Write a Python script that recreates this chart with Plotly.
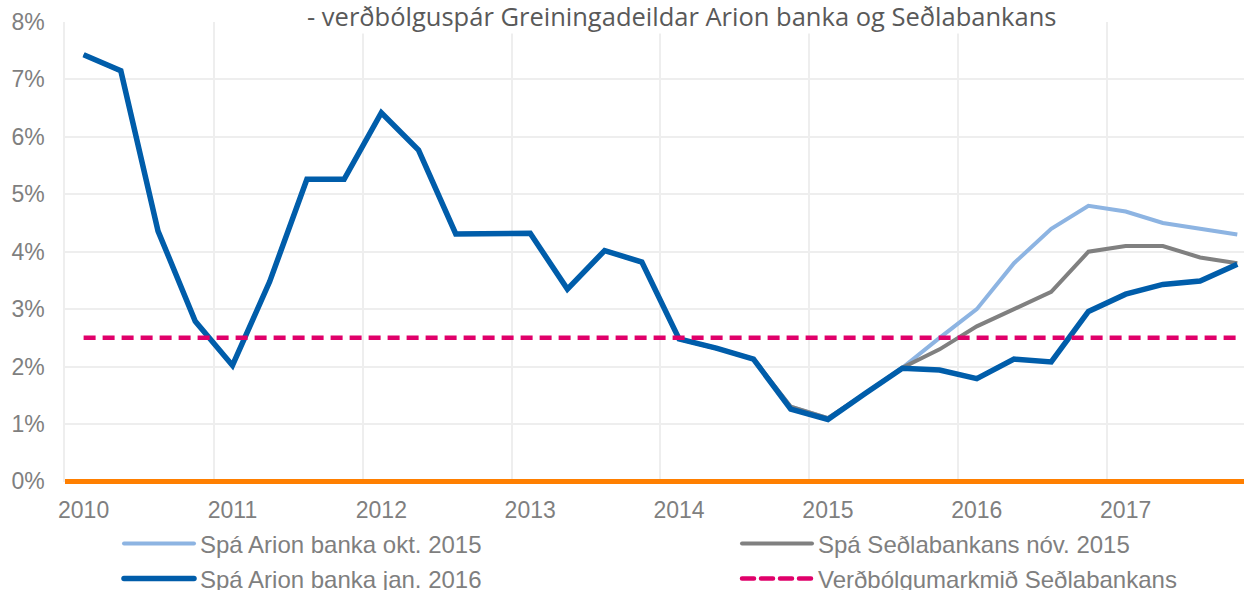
import plotly.graph_objects as go

# ---- data ----
years = ["2010", "2011", "2012", "2013", "2014", "2015", "2016", "2017"]
categories = [f"{y} Á{q}" for y in years for q in (1, 2, 3, 4)]
year_ticks = [f"{y} Á1" for y in years]

spa_arion_okt_2015 = [7.43, 7.15, 4.36, 2.79, 2.02, 3.48, 5.26, 5.26,
                      6.42, 5.77, 4.31, 4.31, 4.32, 3.35, 4.02, 3.82,
                      2.48, 2.32, 2.13, 1.30, 1.10, 1.53, 1.98, 2.50,
                      3.00, 3.80, 4.40, 4.80, 4.70, 4.50, 4.40, 4.30]
spa_sedlabankans_nov_2015 = [7.43, 7.15, 4.36, 2.79, 2.02, 3.48, 5.26, 5.26,
                             6.42, 5.77, 4.31, 4.31, 4.32, 3.35, 4.02, 3.82,
                             2.48, 2.32, 2.13, 1.30, 1.10, 1.53, 1.98, 2.30,
                             2.70, 3.00, 3.30, 4.00, 4.10, 4.10, 3.90, 3.80]
spa_arion_jan_2016 = [7.43, 7.15, 4.36, 2.79, 2.02, 3.48, 5.26, 5.26,
                      6.42, 5.77, 4.31, 4.31, 4.32, 3.35, 4.02, 3.82,
                      2.48, 2.32, 2.13, 1.26, 1.08, 1.53, 1.97, 1.94,
                      1.79, 2.13, 2.08, 2.96, 3.26, 3.43, 3.49, 3.78]
verdbolgumarkmid = [2.5, 2.5, 2.5, 2.5, 2.5, 2.5, 2.5, 2.5,
                    2.5, 2.5, 2.5, 2.5, 2.5, 2.5, 2.5, 2.5,
                    2.5, 2.5, 2.5, 2.5, 2.5, 2.5, 2.5, 2.5,
                    2.5, 2.5, 2.5, 2.5, 2.5, 2.5, 2.5, 2.5]

title_text = "- verðbólguspár Greiningadeildar Arion banka og Seðlabankans"
y_ticks = [0, 1, 2, 3, 4, 5, 6, 7, 8]
y_ticktext = ["0%", "1%", "2%", "3%", "4%", "5%", "6%", "7%", "8%"]

# ---- figure ----
W, H = 1244, 590
ML, MR, MT, MB = 65, 0, 22, 108
GRID = "#EEEEEE"
TXT = "#7F7F7F"
LEG_FONT = dict(family="Liberation Sans, Arial, sans-serif", size=24, color=TXT)

x_idx = list(range(len(categories)))
year_idx = [categories.index(t) for t in year_ticks]

fig = go.Figure()
series = [
    ("Spá Arion banka okt. 2015", spa_arion_okt_2015, dict(color="#8DB4E2", width=4), "legend"),
    ("Spá Seðlabankans nóv. 2015", spa_sedlabankans_nov_2015, dict(color="#808080", width=4), "legend2"),
    ("Spá Arion banka jan. 2016", spa_arion_jan_2016, dict(color="#005DAA", width=5.5), "legend3"),
    ("Verðbólgumarkmið Seðlabankans", verdbolgumarkmid, dict(color="#E0006A", width=4.5, dash="12px,7px"), "legend4"),
]
for name, vals, line, leg in series:
    fig.add_trace(go.Scatter(
        x=x_idx, y=vals, mode="lines", name=name, line=line,
        legend=leg, customdata=categories, hovertemplate="%{customdata}: %{y}%<extra></extra>",
    ))

legend_common = dict(font=LEG_FONT, bgcolor="rgba(0,0,0,0)", borderwidth=0,
                     xref="container", yref="container", xanchor="left", yanchor="middle")
col1, col2 = 160 / W, 778 / W
row1, row2 = 1 - 544 / H, 1 - 579 / H

fig.update_layout(
    width=W, height=H,
    margin=dict(l=ML, r=MR, t=MT, b=MB, autoexpand=False),
    paper_bgcolor="white", plot_bgcolor="white",
    showlegend=True,
    legend=dict(x=col1, y=row1, **legend_common),
    legend2=dict(x=col2, y=row1, **legend_common),
    legend3=dict(x=col1, y=row2, **legend_common),
    legend4=dict(x=col2, y=row2, **legend_common),
    xaxis=dict(
        range=[-0.5, 31.18],
        tickmode="array", tickvals=year_idx, ticktext=years,
        showgrid=False, zeroline=False, showline=False, ticks="",
        tickfont=dict(family="Liberation Sans, Arial, sans-serif", size=23, color=TXT),
        ticklabelstandoff=12,
        minor=dict(tickmode="array", tickvals=[i - 0.5 for i in year_idx],
                   showgrid=True, gridcolor=GRID, gridwidth=1.5, ticks=""),
    ),
    yaxis=dict(
        range=[-0.01, 8],
        tickmode="array", tickvals=y_ticks, ticktext=y_ticktext,
        showgrid=True, gridcolor=GRID, gridwidth=1.5,
        zeroline=True, zerolinecolor="#FF7F00", zerolinewidth=5,
        showline=True, linecolor=GRID, linewidth=1.5,
        ticks="",
        tickfont=dict(family="Liberation Sans, Arial, sans-serif", size=23, color=TXT),
        ticklabelstandoff=14,
    ),
    annotations=[dict(
        text=title_text, xref="paper", yref="paper",
        x=(681 - ML) / (W - ML - MR), y=1 + (MT - 16) / (H - MT - MB),
        xanchor="center", yanchor="middle", showarrow=False,
        font=dict(family="Open Sans, sans-serif", size=25.5, color="#595959"),
        bgcolor="white", borderpad=0,
    )],
)

post = (
    "document.body.style.margin='0';"
    "document.querySelectorAll('[clip-path*=\"legend\"]').forEach(function(e){"
    "e.removeAttribute('clip-path');});"
    "document.querySelectorAll('.legendlines path').forEach(function(p){"
    "p.setAttribute('d','M-36,0h70');p.style.strokeLinecap='round';});"
)
fig.write_html("out.html", post_script=post, config={"displayModeBar": False})
